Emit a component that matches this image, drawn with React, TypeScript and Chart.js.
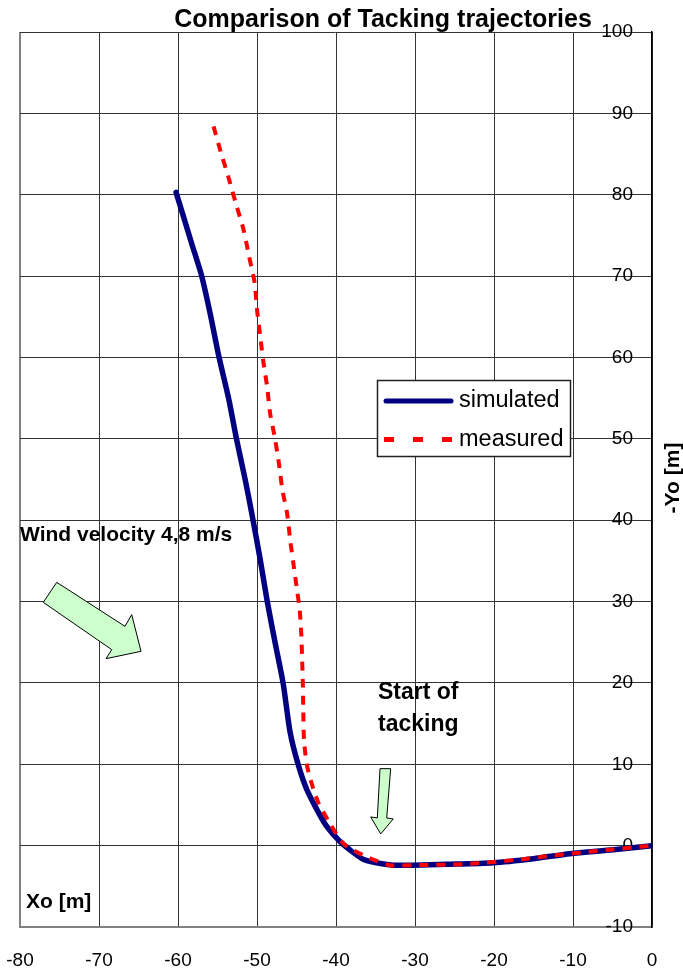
import React, { useEffect, useRef } from "react";
import { Chart, registerables } from "chart.js";

Chart.register(...registerables);

const FONT = "'Liberation Sans', Arial, Helvetica, sans-serif";

// X axis (Xo [m]) and Y axis (-Yo [m]) ranges
const xMin = -80;
const xMax = 0;
const yMin = -10;
const yMax = 100;
const tickStep = 10;

// Simulated trajectory
const simX = [-60.25, -59.3, -58.3, -57.0, -55.95, -54.8, -53.6, -52.6, -51.5, -50.5,
  -49.6, -48.7, -47.7, -46.7, -45.8, -44.8, -43.7, -42.4, -41.2,
  -39.5, -38.0, -36.5, -34.4, -32.7, -30.2, -26.0, -20.1, -15.0, -10.4,
  -4.9, 0];
const simY = [80.3, 77.3, 74.1, 70.0, 65.5, 60.0, 55.0, 50.0, 45.0, 40.0,
  35.2, 30.0, 24.9, 20.0, 13.9, 10.0, 6.9, 4.4, 2.4,
  0.5, -0.7, -1.7, -2.2, -2.4, -2.4, -2.3, -2.1, -1.6, -1.0,
  -0.5, 0];

// Measured trajectory
const measX = [-55.5, -54.6, -53.6, -52.7, -51.7, -51.0, -50.3, -50.0, -49.6, -49.2,
  -48.7, -48.35, -47.7, -47.2, -46.8, -46.2, -45.8, -45.4, -45.0, -44.6,
  -44.4, -44.3, -44.2, -44.15, -44.05, -43.7, -43.1, -42.2, -40.8, -39.1,
  -36.5, -33.2, -30.2, -23.5, -16.7, -13.3, -7.4, 0];
const measY = [88.4, 85.3, 82.1, 79.0, 75.7, 72.4, 69.2, 65.9, 62.7, 59.5,
  56.3, 53.2, 49.9, 46.8, 43.8, 40.9, 37.6, 34.7, 31.9, 29.0,
  26.1, 23.3, 20.0, 17.1, 13.0, 10.0, 7.7, 5.2, 2.8, 0.3,
  -1.2, -2.4, -2.4, -2.25, -1.7, -1.3, -0.7, 0];

const seriesNames = ["simulated", "measured"];
const titleText = "Comparison of Tacking trajectories";
const xTitle = "Xo [m]";
const yTitle = "-Yo [m]";
const windText = "Wind velocity 4,8 m/s";
const startText = ["Start of", "tacking"];

// Annotation arrows in data units
const windArrowX = [-75.35, -66.71, -65.86, -64.68, -69.11, -68.39, -77.05];
const windArrowY = [32.36, 26.95, 28.39, 23.88, 22.98, 24.09, 29.9];
const startArrowX = [-34.43, -33.08, -33.58, -32.75, -34.34, -35.61, -34.77];
const startArrowY = [9.46, 9.46, 3.4, 3.28, 1.44, 3.53, 3.4];

const toPoints = (xs: number[], ys: number[]) => xs.map((x, i) => ({ x, y: ys[i] }));

export default function App() {
  const ref = useRef<HTMLCanvasElement>(null);

  useEffect(() => {
    if (!ref.current) return;

    const overlay = {
      id: "overlay",
      afterDraw(chart: any) {
        const ctx = chart.ctx as CanvasRenderingContext2D;
        const xs = chart.scales.x;
        const ys = chart.scales.y;
        ctx.save();

        // arrows
        const poly = (px: number[], py: number[]) => {
          ctx.beginPath();
          px.forEach((v, i) => {
            const X = xs.getPixelForValue(v);
            const Y = ys.getPixelForValue(py[i]);
            if (i === 0) ctx.moveTo(X, Y);
            else ctx.lineTo(X, Y);
          });
          ctx.closePath();
          ctx.fillStyle = "#ccffcc";
          ctx.fill();
          ctx.lineWidth = 1;
          ctx.strokeStyle = "#000";
          ctx.stroke();
        };
        poly(windArrowX, windArrowY);
        poly(startArrowX, startArrowY);

        // title
        ctx.fillStyle = "#000";
        ctx.font = `bold 25px ${FONT}`;
        ctx.textAlign = "center";
        ctx.textBaseline = "alphabetic";
        ctx.fillText(titleText, 383, 27);

        // annotations
        ctx.textAlign = "left";
        ctx.font = `bold 21px ${FONT}`;
        ctx.fillText(windText, 20, 541);
        ctx.fillText(xTitle, 26, 908);
        ctx.font = `bold 23px ${FONT}`;
        ctx.fillText(startText[0], 378, 699);
        ctx.fillText(startText[1], 378, 731);

        // y axis title
        ctx.save();
        ctx.translate(673, 478);
        ctx.rotate(-Math.PI / 2);
        ctx.textAlign = "center";
        ctx.textBaseline = "middle";
        ctx.font = `bold 21px ${FONT}`;
        ctx.fillText(yTitle, 0, 0);
        ctx.restore();

        // legend
        const lx = 377.5, ly = 380.5, lw = 193, lh = 76;
        ctx.fillStyle = "#fff";
        ctx.fillRect(lx, ly, lw, lh);
        ctx.strokeStyle = "#222";
        ctx.lineWidth = 1.5;
        ctx.strokeRect(lx, ly, lw, lh);

        ctx.lineWidth = 5;
        ctx.strokeStyle = "#000080";
        ctx.lineCap = "round";
        ctx.beginPath();
        ctx.moveTo(386, 401);
        ctx.lineTo(451, 401);
        ctx.stroke();

        ctx.lineCap = "butt";
        ctx.strokeStyle = "#ff0000";
        ctx.setLineDash([10, 19]);
        ctx.beginPath();
        ctx.moveTo(384, 439.5);
        ctx.lineTo(453, 439.5);
        ctx.stroke();
        ctx.setLineDash([]);

        ctx.fillStyle = "#000";
        ctx.font = `23.5px ${FONT}`;
        ctx.textAlign = "left";
        ctx.textBaseline = "middle";
        ctx.fillText(seriesNames[0], 459, 401);
        ctx.fillText(seriesNames[1], 459, 440);

        ctx.restore();
      },
    };

    const chart = new Chart(ref.current, {
      type: "scatter",
      data: {
        datasets: [
          {
            label: seriesNames[0],
            data: toPoints(simX, simY),
            showLine: true,
            borderColor: "#000080",
            backgroundColor: "#000080",
            borderWidth: 5.5,
            pointRadius: 0,
            tension: 0.25,
            borderCapStyle: "round",
            borderJoinStyle: "round",
            order: 2,
          },
          {
            label: seriesNames[1],
            data: toPoints(measX, measY),
            showLine: true,
            borderColor: "#ff0000",
            backgroundColor: "#ff0000",
            borderWidth: 4,
            borderDash: [9, 8],
            pointRadius: 0,
            tension: 0.25,
            order: 1,
          },
        ],
      },
      options: {
        animation: false,
        responsive: false,
        devicePixelRatio: 1,
        layout: { padding: { left: 20, top: 32, right: 0, bottom: 0 } },
        plugins: {
          legend: { display: false },
          title: { display: false },
          tooltip: { enabled: false },
        },
        scales: {
          x: {
            type: "linear",
            position: "bottom",
            min: xMin,
            max: xMax,
            ticks: {
              stepSize: tickStep,
              padding: 22,
              color: "#000",
              font: { family: FONT, size: 19 },
            },
            grid: {
              drawTicks: false,
              color: (c: any) => (c.index === 0 ? "#808080" : "#333"),
              lineWidth: (c: any) => (c.index === 0 ? 2 : 1),
            },
            border: { display: true, color: "#808080", width: 2 },
            afterFit: (s: any) => {
              s.height = 46;
              s.paddingLeft = 0;
              s.paddingRight = 0;
            },
          },
          y: {
            type: "linear",
            position: "right",
            min: yMin,
            max: yMax,
            ticks: {
              stepSize: tickStep,
              mirror: true,
              padding: -19,
              color: "#000",
              font: { family: FONT, size: 19 },
            },
            grid: {
              drawTicks: false,
              color: "#333",
              lineWidth: 1,
            },
            border: { display: true, color: "#000", width: 1.5 },
            afterFit: (s: any) => {
              s.width = 31;
              s.paddingTop = 0;
              s.paddingBottom = 0;
            },
          },
        },
      },
      plugins: [overlay],
    } as any);

    return () => chart.destroy();
  }, []);

  return (
    <div style={{ position: "fixed", left: 0, top: 0, width: 683, height: 973, background: "#fff" }}>
      <canvas ref={ref} width={683} height={973} style={{ display: "block" }} />
    </div>
  );
}
